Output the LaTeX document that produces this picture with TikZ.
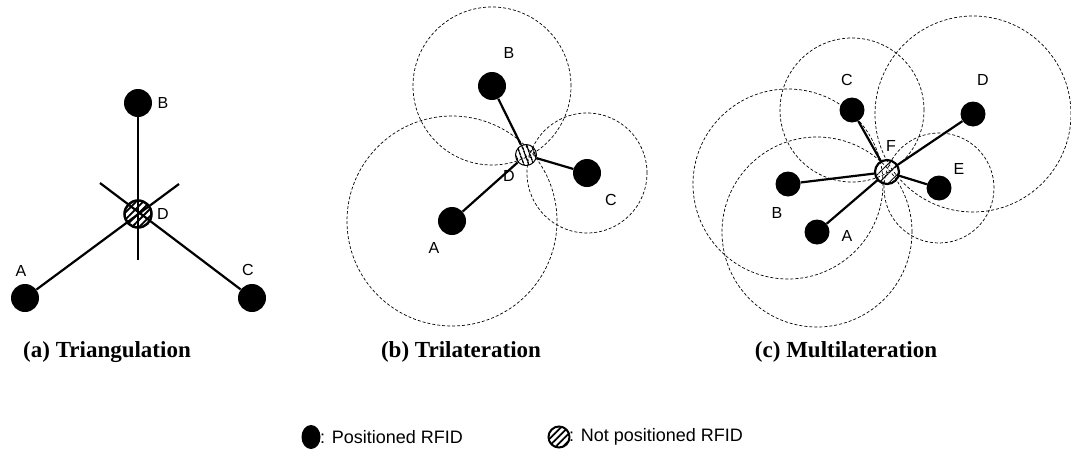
\documentclass[tikz,border=0pt]{standalone}
\usepackage{fontspec}
\setmainfont{Liberation Serif}
\setsansfont{Liberation Sans}
\usetikzlibrary{patterns.meta,shapes.geometric}

\begin{document}
\begin{tikzpicture}[x=1pt,y=-1pt,
  tag/.style={circle,fill=black,inner sep=0pt,minimum size=28pt},
  smalltag/.style={tag,minimum size=25pt},
  unknown/.style={circle,draw=black,line width=2pt,inner sep=0pt,minimum size=22pt,
    pattern={Lines[angle=45,distance=5pt,line width=1.8pt]}},
  link/.style={line width=2.2pt},
  reach/.style={dash pattern=on 3pt off 2pt,line width=0.7pt},
  lbl/.style={font=\sffamily\fontsize{16}{16}\selectfont},
  keytext/.style={font=\sffamily\fontsize{18}{18}\selectfont,anchor=west,inner sep=0pt},
  caption/.style={font=\bfseries\fontsize{23}{23}\selectfont}]
\useasboundingbox (0,0) rectangle (1071,458);

% (a) triangulation
\node[tag] (a-B) at (138,103) {};
\node[tag] (a-A) at (25,298) {};
\node[tag] (a-C) at (252,298) {};
\node[unknown,minimum size=27pt,line width=2.5pt] (a-D) at (138,214) {};
\coordinate (a-endA) at (179,184);
\coordinate (a-endC) at (100,183);
\coordinate (a-endB) at (138,260);
\draw[link] (a-A) -- (a-endA);
\draw[link] (a-C) -- (a-endC);
\draw[link] (a-B) -- (a-endB);
\node[lbl] (a-lA) at (21,271) {A};
\node[lbl] (a-lB) at (163,103) {B};
\node[lbl] (a-lC) at (248,270) {C};
\node[lbl] (a-lD) at (163,214) {D};

% (b) trilateration
\node[tag] (b-A) at (452,221) {};
\node[tag] (b-B) at (492,86) {};
\node[tag] (b-C) at (587,173) {};
\draw[reach] (b-A) circle (105pt);
\draw[reach] (b-B) circle (79pt);
\draw[reach] (b-C) circle (60pt);
\node[unknown,minimum size=21pt,line width=1pt,
  pattern={Lines[angle=-70,distance=4pt,line width=1.6pt]}] (b-D) at (526,155) {};
\draw[link] (b-A) -- (b-D);
\draw[link] (b-B) -- (b-D);
\draw[link] (b-C) -- (b-D);
\node[lbl] (b-lA) at (434,248) {A};
\node[lbl] (b-lB) at (509,53) {B};
\node[lbl] (b-lC) at (611,200) {C};
\node[lbl] (b-lD) at (509,176) {D};

% (c) multilateration
\node[smalltag] (c-A) at (817,232) {};
\node[smalltag] (c-B) at (788,184) {};
\node[smalltag] (c-C) at (852,110) {};
\node[smalltag] (c-D) at (973,114) {};
\node[smalltag] (c-E) at (939,188) {};
\draw[reach] (c-A) circle (95pt);
\draw[reach] (c-B) circle (95pt);
\draw[reach] (c-C) circle (72pt);
\draw[reach] (c-D) circle (98pt);
\draw[reach] (c-E) circle (55pt);
\node[unknown,minimum size=24pt,line width=2.2pt,
  pattern={Lines[angle=45,distance=7pt,line width=1pt]}] (c-F) at (887,172) {};
\draw[link] (c-A) -- (c-F);
\draw[link] (c-B) -- (c-F);
\draw[link] (c-C) -- (c-F);
\draw[link] (c-D) -- (c-F);
\draw[link] (c-E) -- (c-F);
\node[lbl] (c-lA) at (847,236) {A};
\node[lbl] (c-lB) at (777,213) {B};
\node[lbl] (c-lC) at (847,80) {C};
\node[lbl] (c-lD) at (983,80) {D};
\node[lbl] (c-lE) at (959,169) {E};
\node[lbl] (c-lF) at (891,146) {F};

% captions
\node[caption] (capa) at (107,352) {(a) Triangulation};
\node[caption] (capb) at (461,352) {(b) Trilateration};
\node[caption] (capc) at (846,352) {(c) Multilateration};

% legend
\node[ellipse,fill=black,inner sep=0pt,minimum width=19pt,minimum height=24pt] (keyknown) at (311,437) {};
\node[keytext] (keyknowntxt) at (320,437) {: Positioned RFID};
\node[unknown,minimum size=21pt,line width=2pt] (keyunknown) at (559,437) {};
\node[keytext] (keyunknowntxt) at (569,437) {: Not positioned RFID};
\end{tikzpicture}
\end{document}
